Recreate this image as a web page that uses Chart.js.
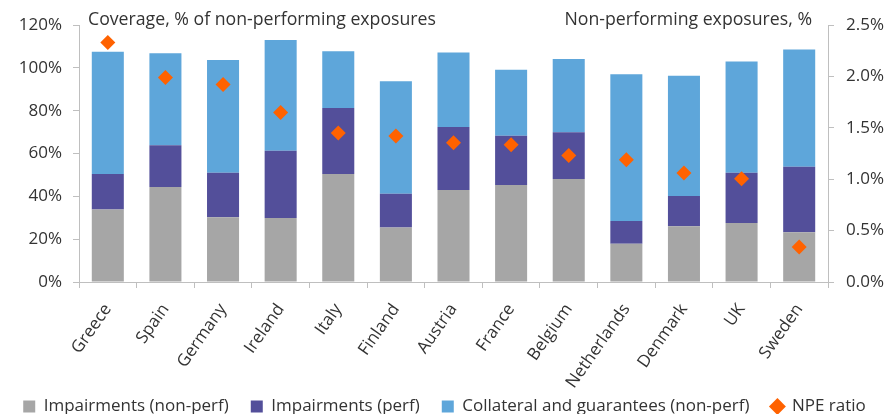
<!DOCTYPE html>
<html>
<head>
<meta charset="utf-8">
<script src="https://cdn.jsdelivr.net/npm/chart.js@4.4.1/dist/chart.umd.min.js"></script>
<style>
  html, body { margin: 0; padding: 0; background: #ffffff; }
  #wrap { width: 889px; height: 414px; position: relative; }
</style>
</head>
<body>
<div id="wrap"><canvas id="c" width="889" height="414"></canvas></div>
<script>
const categories = ["Greece", "Spain", "Germany", "Ireland", "Italy", "Finland", "Austria", "France", "Belgium", "Netherlands", "Denmark", "UK", "Sweden"];
const impairmentsNonPerf = [33.9, 44.4, 30.2, 29.9, 50.4, 25.4, 43.0, 45.3, 48.1, 17.9, 26.0, 27.5, 23.2];
const impairmentsPerf = [16.5, 19.4, 20.8, 31.4, 30.8, 15.8, 29.4, 23.0, 21.8, 10.6, 14.2, 23.5, 30.6];
const collateralNonPerf = [57.1, 43.0, 52.7, 51.7, 26.5, 52.5, 34.8, 30.8, 34.2, 68.5, 56.1, 51.9, 54.8];
const npeRatio = [2.33, 1.99, 1.92, 1.65, 1.45, 1.42, 1.355, 1.335, 1.23, 1.19, 1.06, 1.005, 0.34];
const leftTicks = [0, 20, 40, 60, 80, 100, 120];
const rightTicks = [0, 0.5, 1.0, 1.5, 2.0, 2.5];
const leftTitle = "Coverage, % of non-performing exposures";
const rightTitle = "Non-performing exposures, %";

const FONT = '"Open Sans", "DejaVu Sans", sans-serif';
const TXT = '#333333';
const AX = '#bfbfbf';
const LEGEND_H = 38;

const titlesPlugin = {
  id: 'titles',
  afterInit(chart) {
    const lg = chart.legend;
    if (lg && !lg._patched) {
      const f = lg.fit.bind(lg);
      lg.fit = function () { f(); this.height = LEGEND_H; this.minSize && (this.minSize.height = LEGEND_H); };
      lg._patched = true;
    }
  },
  afterDraw(chart) {
    const ctx = chart.ctx;
    ctx.save();
    ctx.font = '17.7px ' + FONT;
    ctx.fillStyle = TXT;
    ctx.textBaseline = 'middle';
    ctx.textAlign = 'left';
    ctx.fillText(leftTitle, chart.chartArea.left + 9, 20);
    ctx.textAlign = 'right';
    ctx.fillText(rightTitle, chart.chartArea.right - 16, 20);
    ctx.restore();
  }
};

new Chart(document.getElementById('c'), {
  type: 'bar',
  data: {
    labels: categories,
    datasets: [
      { label: 'Impairments (non-perf)', data: impairmentsNonPerf, backgroundColor: '#a6a6a6', yAxisID: 'y', order: 1, stack: 's' },
      { label: 'Impairments (perf)', data: impairmentsPerf, backgroundColor: '#534f9a', yAxisID: 'y', order: 1, stack: 's' },
      { label: 'Collateral and guarantees (non-perf)', data: collateralNonPerf, backgroundColor: '#5ea6da', yAxisID: 'y', order: 1, stack: 's' },
      { type: 'line', label: 'NPE ratio', data: npeRatio, yAxisID: 'y1', showLine: false, order: 0,
        pointStyle: 'rectRot', pointRadius: 7.5, pointHoverRadius: 7.5,
        backgroundColor: '#ff6200', borderColor: '#ff6200', borderWidth: 0 }
    ]
  },
  options: {
    responsive: false,
    animation: false,
    devicePixelRatio: 1,
    layout: { padding: { top: 25, left: 0, right: 0, bottom: 0 } },
    datasets: { bar: { categoryPercentage: 1.0, barPercentage: 0.556 } },
    plugins: {
      tooltip: { enabled: false },
      legend: {
        position: 'bottom',
        labels: {
          font: { family: FONT, size: 17 },
          color: TXT,
          usePointStyle: true,
          boxWidth: 12,
          boxHeight: 12,
          padding: 22,
          sort: (a, b) => a.datasetIndex - b.datasetIndex,
          generateLabels(chart) {
            const items = Chart.defaults.plugins.legend.labels.generateLabels(chart);
            items.forEach(it => {
              const ds = chart.data.datasets[it.datasetIndex];
              it.pointStyle = ds.type === 'line' ? 'rectRot' : 'rect';
              it.fillStyle = ds.backgroundColor;
              it.strokeStyle = ds.backgroundColor;
              it.lineWidth = 0;
            });
            return items;
          }
        }
      }
    },
    scales: {
      x: {
        stacked: true,
        border: { display: true, color: AX, width: 1 },
        grid: { display: true, drawOnChartArea: false, drawTicks: true, tickLength: 6, color: AX, offset: true },
        ticks: { font: { family: FONT, size: 17 }, color: TXT, minRotation: 55, maxRotation: 55, padding: 12, autoSkip: false },
        afterFit(s) { s.height = 414 - LEGEND_H - 282; s._computeLabelArea = function () { return undefined; }; }
      },
      y: {
        stacked: true,
        position: 'left',
        min: 0, max: 120,
        afterBuildTicks(s) { s.ticks = leftTicks.map(v => ({ value: v })); },
        border: { display: true, color: AX, width: 1 },
        grid: { display: true, drawOnChartArea: false, drawTicks: true, tickLength: 6, color: AX },
        ticks: { font: { family: FONT, size: 17 }, color: TXT, padding: 11, callback: v => v + '%' },
        afterFit(s) { s.width = 79; }
      },
      y1: {
        position: 'right',
        min: 0, max: 2.5,
        afterBuildTicks(s) { s.ticks = rightTicks.map(v => ({ value: v })); },
        border: { display: true, color: AX, width: 1 },
        grid: { display: true, drawOnChartArea: false, drawTicks: true, tickLength: 6, color: AX },
        ticks: { font: { family: FONT, size: 17 }, color: TXT, padding: 12, callback: v => v.toFixed(1) + '%' },
        afterFit(s) { s.width = 61; }
      }
    }
  },
  plugins: [titlesPlugin]
});
</script>
</body>
</html>
